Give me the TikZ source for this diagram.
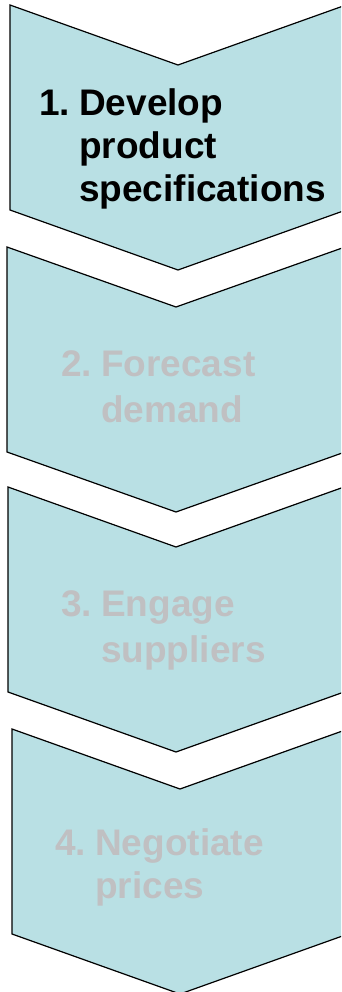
\documentclass[tikz,border=0pt]{standalone}
\usepackage{fontspec}
\setmainfont{Liberation Sans}
\definecolor{chevfill}{RGB}{185,224,228}
\definecolor{dimtext}{RGB}{192,192,194}
\tikzset{
  chev/.style={fill=chevfill, draw=black, line width=1.2pt, line join=miter},
  steptext/.style={anchor=base west, inner sep=0pt, font=\bfseries\fontsize{37}{#1}\selectfont},
  steptext/.default=43,
}
\newcommand\chevron[4]{% name, left x, top y, centre x
  \path[chev] (#2,#3) coordinate (#1-tl) -- (#4,#3+60) coordinate (#1-notch)
     -- ({2*#4-#2},#3) -- ({2*#4-#2},#3+205) -- (#4,#3+265) coordinate (#1-tip)
     -- (#2,#3+205) -- cycle;
}
\newcommand\steplines[1]{\begin{tabular}[t]{@{}p{40pt}@{}l@{}}#1\end{tabular}}
\begin{document}
\begin{tikzpicture}[x=1pt,y=-1pt]
\path[use as bounding box] (0,0) rectangle (341,992);
\clip (0,0) rectangle (341,992);
\chevron{c1}{10}{5}{178}
\chevron{c2}{7}{247}{176}
\chevron{c3}{8}{487}{176}
\chevron{c4}{12}{729}{180}
\node[steptext=43, text=black] (t1) at (39,116)
  {\steplines{1.&Develop\\&product\\&specifications}};
\node[steptext=46, text=dimtext] (t2) at (61,376)
  {\steplines{2.&Forecast\\&demand}};
\node[steptext=46, text=dimtext] (t3) at (61,616)
  {\steplines{3.&Engage\\&suppliers}};
\node[steptext=43, text=dimtext] (t4) at (55,855)
  {\steplines{4.&Negotiate\\&prices}};
\end{tikzpicture}
\end{document}
